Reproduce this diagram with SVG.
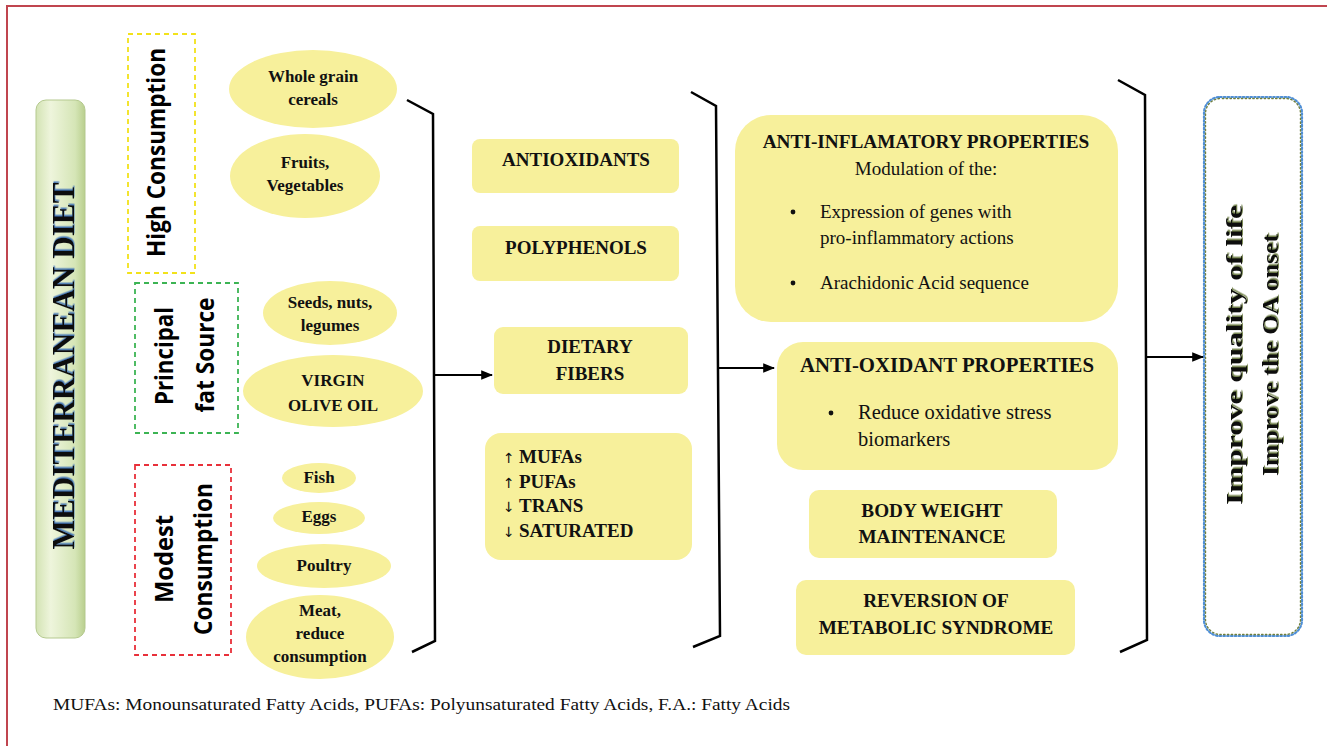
<svg xmlns="http://www.w3.org/2000/svg" width="1327" height="746" viewBox="0 0 1327 746">
<defs>
<style>
.el{fill:#f7f09b}
.bx{fill:#f7f09b}
.t{font-family:"Liberation Serif",serif;font-weight:bold;fill:#111;text-anchor:middle}
.r{font-family:"Liberation Serif",serif;fill:#111}
.s{font-family:"Open Sans","Liberation Sans",sans-serif;font-weight:bold;fill:#000;text-anchor:middle}
.cn{fill:none;stroke:#000;stroke-width:2.5;stroke-linejoin:miter}
.ar{fill:none;stroke:#000;stroke-width:2}
</style>
<linearGradient id="pill" x1="0" y1="0" x2="1" y2="0">
<stop offset="0" stop-color="#d3e3b3"/>
<stop offset="0.3" stop-color="#eef5dc"/>
<stop offset="0.8" stop-color="#d5e5b6"/>
<stop offset="1" stop-color="#b9cf8e"/>
</linearGradient>
<marker id="ah" viewBox="0 0 10 10" refX="9" refY="5" markerWidth="6" markerHeight="6" markerUnits="strokeWidth" orient="auto">
<path d="M0,1 L10,5 L0,9 z" fill="#000"/>
</marker>
<filter id="sh" x="-10%" y="-10%" width="120%" height="120%">
<feDropShadow dx="1.5" dy="0.5" stdDeviation="0.6" flood-color="#3b6fb6" flood-opacity="0.9"/>
</filter>
<filter id="sh2" x="-10%" y="-10%" width="120%" height="120%">
<feDropShadow dx="1.5" dy="1" stdDeviation="0.6" flood-color="#6a7a40" flood-opacity="0.9"/>
</filter>
</defs>
<rect width="1327" height="746" fill="#fff"/>
<path d="M7,746 V6 H1327" fill="none" stroke="#c0454f" stroke-width="2"/>

<g id="mediterranean-diet">
<rect x="36" y="100" width="49" height="538" rx="10" fill="url(#pill)" stroke="#b5c98f" stroke-width="1"/>
<text class="t" transform="translate(74,366) rotate(-90)" font-size="32" textLength="367" lengthAdjust="spacingAndGlyphs" filter="url(#sh)">MEDITERRANEAN DIET</text>
</g>

<g id="high-consumption">
<rect x="128" y="34" width="67" height="239" fill="none" stroke="#f2e21a" stroke-width="1.8" stroke-dasharray="5,4"/>
<text class="s" transform="translate(165,152.5) rotate(-90)" font-size="25" textLength="209" lengthAdjust="spacingAndGlyphs">High Consumption</text>
</g>

<g id="principal-fat-source">
<rect x="135" y="283" width="103" height="150" fill="none" stroke="#3cb454" stroke-width="1.8" stroke-dasharray="5,4"/>
<text class="s" transform="translate(173,356) rotate(-90)" font-size="25" textLength="98" lengthAdjust="spacingAndGlyphs">Principal</text>
<text class="s" transform="translate(214,355) rotate(-90)" font-size="25" textLength="115" lengthAdjust="spacingAndGlyphs">fat Source</text>
</g>

<g id="modest-consumption">
<rect x="135" y="465" width="96" height="190" fill="none" stroke="#e8303a" stroke-width="1.8" stroke-dasharray="5,4"/>
<text class="s" transform="translate(173,559) rotate(-90)" font-size="25" textLength="88" lengthAdjust="spacingAndGlyphs">Modest</text>
<text class="s" transform="translate(212,559) rotate(-90)" font-size="25" textLength="152" lengthAdjust="spacingAndGlyphs">Consumption</text>
</g>

<g id="whole-grain">
<ellipse class="el" cx="313" cy="89" rx="84" ry="39"/>
<text class="t" x="313" y="82" font-size="17">Whole grain</text>
<text class="t" x="313" y="105" font-size="17">cereals</text>
</g>
<g id="fruits">
<ellipse class="el" cx="305" cy="176" rx="75" ry="42"/>
<text class="t" x="305" y="168" font-size="17">Fruits,</text>
<text class="t" x="305" y="191" font-size="17">Vegetables</text>
</g>
<g id="seeds">
<ellipse class="el" cx="330" cy="313" rx="67" ry="32"/>
<text class="t" x="330" y="308" font-size="17">Seeds, nuts,</text>
<text class="t" x="330" y="331" font-size="17">legumes</text>
</g>
<g id="olive-oil">
<ellipse class="el" cx="333" cy="391" rx="90" ry="36"/>
<text class="t" x="333" y="386" font-size="17">VIRGIN</text>
<text class="t" x="333" y="411" font-size="17">OLIVE OIL</text>
</g>
<g id="fish">
<ellipse class="el" cx="319" cy="478" rx="37" ry="15"/>
<text class="t" x="319" y="483" font-size="17">Fish</text>
</g>
<g id="eggs">
<ellipse class="el" cx="319" cy="518" rx="46" ry="16"/>
<text class="t" x="319" y="522" font-size="17">Eggs</text>
</g>
<g id="poultry">
<ellipse class="el" cx="324" cy="566" rx="67" ry="22"/>
<text class="t" x="324" y="571" font-size="17">Poultry</text>
</g>
<g id="meat">
<ellipse class="el" cx="320" cy="637" rx="74" ry="42"/>
<text class="t" x="320" y="616" font-size="17">Meat,</text>
<text class="t" x="320" y="639" font-size="17">reduce</text>
<text class="t" x="320" y="662" font-size="17">consumption</text>
</g>

<g id="antioxidants">
<rect class="bx" x="472" y="139" width="207" height="54" rx="8"/>
<text class="t" x="576" y="166" font-size="19">ANTIOXIDANTS</text>
</g>
<g id="polyphenols">
<rect class="bx" x="472" y="226" width="207" height="55" rx="8"/>
<text class="t" x="576" y="254" font-size="19">POLYPHENOLS</text>
</g>
<g id="dietary-fibers">
<rect class="bx" x="494" y="327" width="194" height="67" rx="9"/>
<text class="t" x="590" y="353" font-size="19">DIETARY</text>
<text class="t" x="590" y="380" font-size="19">FIBERS</text>
</g>
<g id="fatty-acids">
<rect class="bx" x="485" y="433" width="207" height="127" rx="16"/>
<text class="r" x="503" y="463" font-size="19"><tspan font-family="DejaVu Sans" font-size="14">↑</tspan><tspan font-weight="bold" x="519">MUFAs</tspan></text>
<text class="r" x="503" y="488" font-size="19"><tspan font-family="DejaVu Sans" font-size="14">↑</tspan><tspan font-weight="bold" x="519">PUFAs</tspan></text>
<text class="r" x="503" y="512" font-size="19"><tspan font-family="DejaVu Sans" font-size="14">↓</tspan><tspan font-weight="bold" x="519">TRANS</tspan></text>
<text class="r" x="503" y="537" font-size="19"><tspan font-family="DejaVu Sans" font-size="14">↓</tspan><tspan font-weight="bold" x="519">SATURATED</tspan></text>
</g>

<g id="anti-inflammatory">
<rect class="bx" x="735" y="115" width="383" height="207" rx="36"/>
<text class="t" x="926" y="148" font-size="19.3">ANTI-INFLAMATORY PROPERTIES</text>
<text class="r" x="926" y="175" font-size="19" text-anchor="middle">Modulation of the:</text>
<circle cx="793" cy="212" r="2.4" fill="#111"/>
<text class="r" x="820" y="218" font-size="19">Expression of genes with</text>
<text class="r" x="820" y="244" font-size="19">pro-inflammatory actions</text>
<circle cx="793" cy="283" r="2.4" fill="#111"/>
<text class="r" x="820" y="289" font-size="19">Arachidonic Acid sequence</text>
</g>
<g id="anti-oxidant">
<rect class="bx" x="777" y="342" width="341" height="128" rx="26"/>
<text class="t" x="947" y="372" font-size="20.8">ANTI-OXIDANT PROPERTIES</text>
<circle cx="831" cy="413" r="2.4" fill="#111"/>
<text class="r" x="858" y="419" font-size="20.5">Reduce oxidative stress</text>
<text class="r" x="858" y="446" font-size="20.5">biomarkers</text>
</g>
<g id="body-weight">
<rect class="bx" x="809" y="490" width="248" height="68" rx="10"/>
<text class="t" x="932" y="517" font-size="19.2">BODY WEIGHT</text>
<text class="t" x="932" y="543" font-size="19.2">MAINTENANCE</text>
</g>
<g id="metabolic-syndrome">
<rect class="bx" x="796" y="580" width="279" height="75" rx="10"/>
<text class="t" x="936" y="607" font-size="19.2">REVERSION OF</text>
<text class="t" x="936" y="634" font-size="19.2">METABOLIC SYNDROME</text>
</g>

<g id="outcome">
<rect x="1204" y="97" width="98" height="539" rx="16" fill="#fff" stroke="#4f8fd6" stroke-width="2.2" stroke-dasharray="1.6,2.2" stroke-linecap="round"/>
<rect x="1205.5" y="98.5" width="95" height="536" rx="15" fill="none" stroke="#6f7f3e" stroke-width="1.4" stroke-dasharray="1.4,2.4" stroke-dashoffset="1.9" stroke-linecap="round"/>
<text class="t" transform="translate(1242,355) rotate(-90)" font-size="24" textLength="300" lengthAdjust="spacingAndGlyphs" filter="url(#sh2)">Improve quality of life</text>
<text class="t" transform="translate(1278,355) rotate(-90)" font-size="24" textLength="242" lengthAdjust="spacingAndGlyphs" filter="url(#sh2)">Improve the OA onset</text>
</g>

<g id="connectors">
<path class="cn" d="M407,100 L433,114 L435,641 L412,652"/>
<path class="ar" d="M435,375 H492" marker-end="url(#ah)"/>
<path class="cn" d="M691,92 L716,106 L720,636 L693,647"/>
<path class="ar" d="M718,368 H774" marker-end="url(#ah)"/>
<path class="cn" d="M1118,80 L1145,95 L1147,640 L1120,652"/>
<path class="ar" d="M1147,357 H1203" marker-end="url(#ah)"/>
</g>

<text class="r" x="53" y="710" font-size="16.5" textLength="737" lengthAdjust="spacingAndGlyphs">MUFAs: Monounsaturated Fatty Acids, PUFAs: Polyunsaturated Fatty Acids, F.A.: Fatty Acids</text>
</svg>
